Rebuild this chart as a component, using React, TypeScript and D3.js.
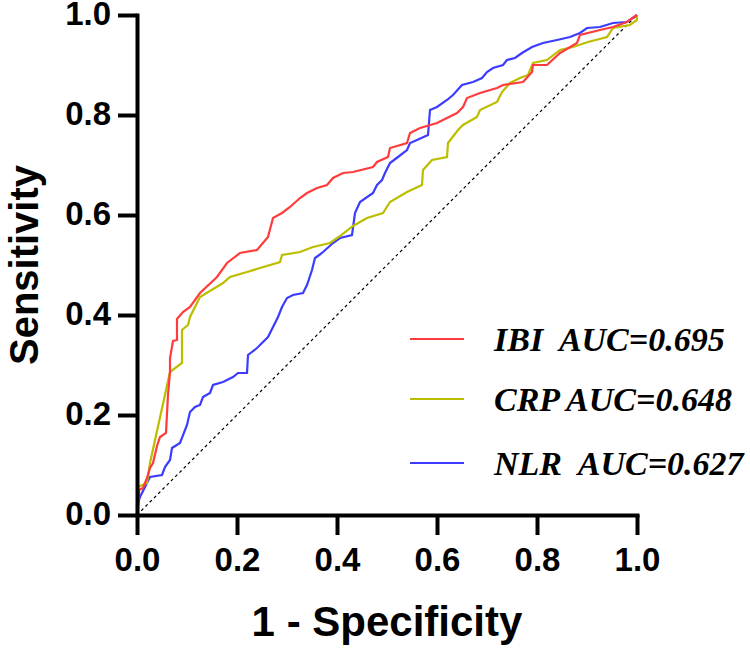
import React, { useEffect, useRef } from 'react';
import * as d3 from 'd3';

// ROC points: [1 - specificity, sensitivity]
const ibiPoints: Array<[number, number]> = [
  [0, 0], [0.004, 0.03], [0.004, 0.05], [0.012, 0.054], [0.02, 0.074], [0.026, 0.094],
  [0.032, 0.104], [0.04, 0.138], [0.046, 0.156], [0.058, 0.164], [0.062, 0.24], [0.066, 0.286],
  [0.066, 0.314], [0.072, 0.348], [0.08, 0.35], [0.08, 0.392], [0.092, 0.406], [0.106, 0.416],
  [0.126, 0.444], [0.16, 0.476], [0.18, 0.504], [0.206, 0.524], [0.24, 0.53], [0.262, 0.556],
  [0.272, 0.594], [0.29, 0.604], [0.306, 0.616], [0.326, 0.634], [0.34, 0.644], [0.36, 0.654],
  [0.38, 0.66], [0.392, 0.674], [0.412, 0.684], [0.432, 0.686], [0.472, 0.696], [0.48, 0.706],
  [0.502, 0.716], [0.506, 0.734], [0.54, 0.744], [0.546, 0.764], [0.566, 0.774], [0.6, 0.784],
  [0.62, 0.794], [0.64, 0.804], [0.652, 0.816], [0.66, 0.834], [0.686, 0.844], [0.72, 0.854],
  [0.732, 0.86], [0.772, 0.866], [0.79, 0.886], [0.792, 0.9], [0.82, 0.9], [0.846, 0.924],
  [0.88, 0.944], [0.886, 0.96], [0.926, 0.97], [0.952, 0.976], [0.98, 0.986], [1, 1],
];

const crpPoints: Array<[number, number]> = [
  [0, 0], [0.002, 0.034], [0.002, 0.056], [0.02, 0.064], [0.026, 0.104], [0.066, 0.286],
  [0.09, 0.304], [0.09, 0.37], [0.102, 0.38], [0.106, 0.396], [0.126, 0.436], [0.172, 0.464],
  [0.186, 0.476], [0.22, 0.486], [0.246, 0.494], [0.286, 0.506], [0.29, 0.52], [0.326, 0.526],
  [0.352, 0.536], [0.386, 0.544], [0.406, 0.558], [0.432, 0.578], [0.46, 0.594], [0.492, 0.604],
  [0.506, 0.626], [0.54, 0.646], [0.57, 0.66], [0.572, 0.69], [0.59, 0.71], [0.62, 0.716],
  [0.622, 0.744], [0.642, 0.77], [0.652, 0.78], [0.68, 0.796], [0.686, 0.81], [0.72, 0.826],
  [0.73, 0.846], [0.746, 0.864], [0.766, 0.874], [0.782, 0.88], [0.792, 0.904], [0.82, 0.91],
  [0.846, 0.93], [0.872, 0.936], [0.902, 0.946], [0.94, 0.956], [0.952, 0.974], [0.986, 0.98],
  [1, 0.99], [1, 1],
];

const nlrPoints: Array<[number, number]> = [
  [0, 0], [0, 0.02], [0.006, 0.036], [0.026, 0.076], [0.05, 0.08], [0.056, 0.096],
  [0.066, 0.11], [0.07, 0.134], [0.086, 0.144], [0.1, 0.18], [0.106, 0.206], [0.116, 0.216],
  [0.126, 0.22], [0.132, 0.236], [0.146, 0.244], [0.152, 0.26], [0.172, 0.266], [0.192, 0.276],
  [0.202, 0.284], [0.22, 0.284], [0.222, 0.32], [0.24, 0.334], [0.25, 0.344], [0.262, 0.356],
  [0.272, 0.376], [0.282, 0.396], [0.29, 0.416], [0.3, 0.434], [0.312, 0.44], [0.332, 0.444],
  [0.34, 0.46], [0.35, 0.49], [0.356, 0.514], [0.37, 0.524], [0.392, 0.544], [0.406, 0.554],
  [0.43, 0.56], [0.436, 0.604], [0.446, 0.626], [0.472, 0.644], [0.48, 0.66], [0.49, 0.67],
  [0.496, 0.684], [0.506, 0.704], [0.522, 0.716], [0.54, 0.73], [0.546, 0.744], [0.56, 0.75],
  [0.582, 0.76], [0.586, 0.81], [0.6, 0.816], [0.62, 0.83], [0.632, 0.84], [0.65, 0.86],
  [0.672, 0.866], [0.69, 0.874], [0.7, 0.886], [0.712, 0.894], [0.732, 0.9], [0.74, 0.91],
  [0.756, 0.914], [0.77, 0.924], [0.79, 0.936], [0.812, 0.944], [0.84, 0.95], [0.866, 0.956],
  [0.886, 0.964], [0.9, 0.974], [0.926, 0.976], [0.952, 0.984], [0.98, 0.986], [1, 1],
];

const seriesNames = ['IBI  AUC=0.695', 'CRP AUC=0.648', 'NLR  AUC=0.627'];
const seriesColors = ['#ff3c3c', '#bdbd00', '#3c3cff'];
const tickValues = [0, 0.2, 0.4, 0.6, 0.8, 1.0];

const WIDTH = 750;
const HEIGHT = 651;
const MARGIN = { TOP: 15, RIGHT: 113, BOTTOM: 136, LEFT: 137 };

export default function App(): JSX.Element {
  const svgRef = useRef<SVGSVGElement>(null);

  useEffect(() => {
    const svg = d3.select(svgRef.current);
    svg.selectAll('*').remove();

    const plotW = WIDTH - MARGIN.LEFT - MARGIN.RIGHT;
    const plotH = HEIGHT - MARGIN.TOP - MARGIN.BOTTOM;
    const x = d3.scaleLinear().domain([0, 1]).range([MARGIN.LEFT, MARGIN.LEFT + plotW]);
    const y = d3.scaleLinear().domain([0, 1]).range([MARGIN.TOP + plotH, MARGIN.TOP]);

    // reference diagonal
    svg
      .append('line')
      .attr('x1', x(0))
      .attr('y1', y(0))
      .attr('x2', x(1))
      .attr('y2', y(1))
      .attr('stroke', '#000')
      .attr('stroke-width', 1.2)
      .attr('stroke-dasharray', '3,3');

    const line = d3
      .line<[number, number]>()
      .x((d) => x(d[0]))
      .y((d) => y(d[1]));

    // draw order: NLR, CRP, IBI (red on top)
    const all = [ibiPoints, crpPoints, nlrPoints];
    [2, 1, 0].forEach((i) => {
      svg
        .append('path')
        .datum(all[i])
        .attr('d', line)
        .attr('fill', 'none')
        .attr('stroke', seriesColors[i])
        .attr('stroke-width', 2.2)
        .attr('stroke-linejoin', 'miter');
    });

    const fmt = d3.format('.1f');

    const xAxisG = svg
      .append('g')
      .attr('transform', `translate(0, ${y(0)})`)
      .call(d3.axisBottom(x).tickValues(tickValues).tickFormat(fmt as any).tickSize(20).tickSizeOuter(0).tickPadding(13));
    const yAxisG = svg
      .append('g')
      .attr('transform', `translate(${x(0)}, 0)`)
      .call(d3.axisLeft(y).tickValues(tickValues).tickFormat(fmt as any).tickSize(19).tickSizeOuter(0).tickPadding(7));

    [xAxisG, yAxisG].forEach((g) => {
      g.select('.domain').attr('stroke', '#000').attr('stroke-width', 4).attr('stroke-linecap', 'square');
      g.selectAll('.tick line').attr('stroke', '#000').attr('stroke-width', 4);
      g.selectAll('.tick text')
        .attr('fill', '#000')
        .style('font-family', '"Liberation Sans", Arial, sans-serif')
        .style('font-weight', 'bold')
        .style('font-size', '33px');
    });
    // y labels sit a touch above their ticks
    yAxisG.selectAll('.tick text').attr('dy', '0.28em');

    // axis titles
    svg
      .append('text')
      .attr('x', x(0.5))
      .attr('y', 636)
      .attr('text-anchor', 'middle')
      .style('font-family', '"Liberation Sans", Arial, sans-serif')
      .style('font-weight', 'bold')
      .style('font-size', '42px')
      .text('1 - Specificity');

    svg
      .append('text')
      .attr('transform', `translate(38, ${y(0.5)}) rotate(-90)`)
      .attr('text-anchor', 'middle')
      .style('font-family', '"Liberation Sans", Arial, sans-serif')
      .style('font-weight', 'bold')
      .style('font-size', '40px')
      .text('Sensitivity');

    // legend
    const legendY = [339, 399, 463];
    seriesNames.forEach((name, i) => {
      svg
        .append('line')
        .attr('x1', 410)
        .attr('x2', 464)
        .attr('y1', legendY[i])
        .attr('y2', legendY[i])
        .attr('stroke', seriesColors[i])
        .attr('stroke-width', 2.2);
      svg
        .append('text')
        .attr('x', 494)
        .attr('y', legendY[i] + 12)
        .style('font-family', '"Liberation Serif", "Times New Roman", serif')
        .style('font-weight', 'bold')
        .style('font-style', 'italic')
        .style('font-size', '34px')
        .style('white-space', 'pre')
        .text(name);
    });
  }, []);

  return (
    <svg
      ref={svgRef}
      width={WIDTH}
      height={HEIGHT}
      style={{ position: 'absolute', left: 0, top: 0, background: '#fff' }}
    />
  );
}
